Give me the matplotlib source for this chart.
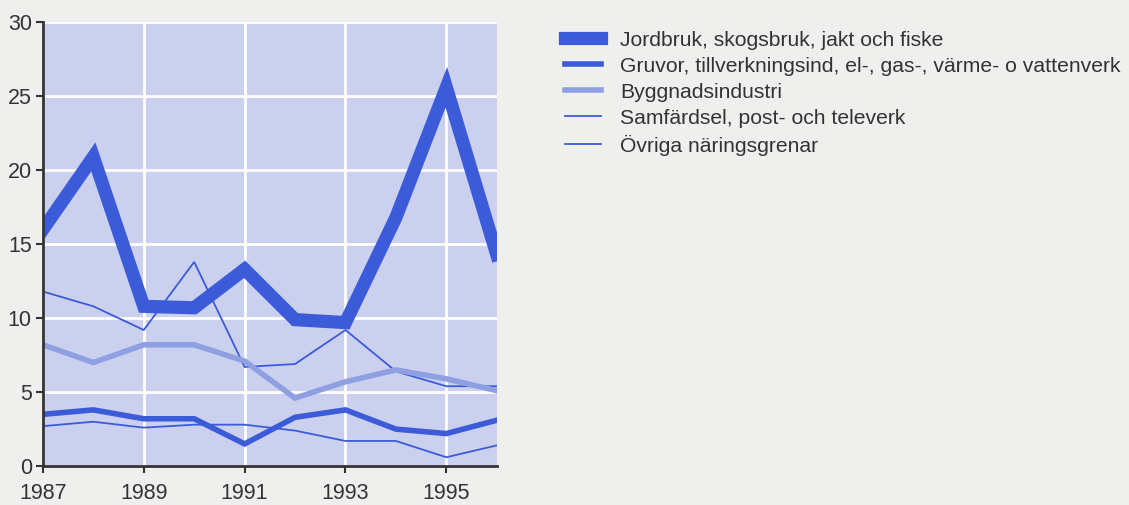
import matplotlib.pyplot as plt

years = [1987, 1988, 1989, 1990, 1991, 1992, 1993, 1994, 1995, 1996]

jordbruk = [16.0, 20.9, 10.8, 10.7, 13.3, 9.9, 9.7, 16.8, 25.6, 14.3]
gruvor = [3.5, 3.8, 3.2, 3.2, 1.5, 3.3, 3.8, 2.5, 2.2, 3.1]
byggnad = [8.2, 7.0, 8.2, 8.2, 7.1, 4.6, 5.7, 6.5, 5.9, 5.1]
samfardsel = [11.8, 10.8, 9.2, 13.8, 6.7, 6.9, 9.2, 6.4, 5.4, 5.4]
ovriga = [2.7, 3.0, 2.6, 2.8, 2.8, 2.4, 1.7, 1.7, 0.6, 1.4]

labels = [
    "Jordbruk, skogsbruk, jakt och fiske",
    "Gruvor, tillverkningsind, el-, gas-, värme- o vattenverk",
    "Byggnadsindustri",
    "Samfärdsel, post- och televerk",
    "Övriga näringsgrenar",
]

plt.rcParams['font.family'] = ['Liberation Sans', 'DejaVu Sans']

blue = '#3b5bd9'
light = '#8fa0e2'

fig = plt.figure(figsize=(11.29, 5.05), dpi=100)
fig.patch.set_facecolor('#efefed')
ax = fig.add_axes([0.038, 0.077, 0.402, 0.879])
ax.set_facecolor('#cad0ee')

ax.plot(years, ovriga, color=blue, lw=1.3, label=labels[4], solid_joinstyle='miter')
ax.plot(years, samfardsel, color=blue, lw=1.3, label=labels[3], solid_joinstyle='miter')
ax.plot(years, byggnad, color=light, lw=4, label=labels[2], solid_joinstyle='miter')
ax.plot(years, gruvor, color=blue, lw=4, label=labels[1], solid_joinstyle='miter')
ax.plot(years, jordbruk, color=blue, lw=9.5, label=labels[0], solid_joinstyle='miter')

ax.set_xlim(1987, 1996)
ax.set_ylim(0, 30)
ax.set_xticks([1987, 1989, 1991, 1993, 1995])
ax.set_yticks([0, 5, 10, 15, 20, 25, 30])
ax.grid(True, color='white', lw=2)
ax.set_axisbelow(True)

for s in ['top', 'right']:
    ax.spines[s].set_visible(False)
for s in ['left', 'bottom']:
    ax.spines[s].set_color('#333333')
    ax.spines[s].set_linewidth(2)
ax.tick_params(axis='both', labelsize=15.5, colors='#333333', length=5, width=1.5)
ax.tick_params(axis='x', pad=7)
ax.tick_params(axis='y', pad=3)

handles, labs = ax.get_legend_handles_labels()
fig.legend(handles[::-1], labs[::-1], loc='upper left', bbox_to_anchor=(0.484, 0.977),
           frameon=False, fontsize=15.2, handlelength=1.7, labelspacing=0.33,
           handletextpad=0.9, labelcolor='#333333')

fig.savefig('out.png', dpi=100, facecolor=fig.get_facecolor())
